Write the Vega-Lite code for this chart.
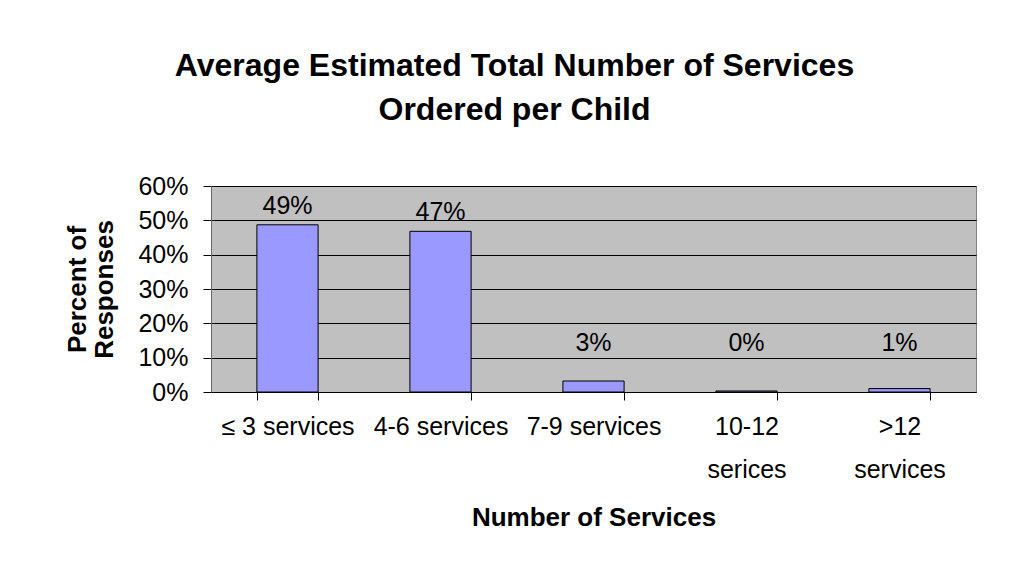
{
  "$schema": "https://vega.github.io/schema/vega-lite/v6.json",
  "width": 765,
  "height": 206,
  "autosize": {"type": "none"},
  "padding": {"left": 211, "top": 186, "right": 33, "bottom": 185},
  "background": "white",
  "title": {
    "text": ["Average Estimated Total Number of Services", "Ordered per Child"],
    "font": "Liberation Sans",
    "fontSize": 32,
    "fontWeight": "bold",
    "color": "black",
    "anchor": "middle",
    "frame": "group",
    "lineHeight": 44,
    "baseline": "alphabetic",
    "dx": -79,
    "dy": -2,
    "offset": 20
  },
  "data": {
    "values": [
      {"category": "≤ 3 services", "value": 0.487, "label": "49%"},
      {"category": "4-6 services", "value": 0.468, "label": "47%"},
      {"category": "7-9 services", "value": 0.032, "label": "3%"},
      {"category": "10-12|serices", "value": 0.003, "label": "0%"},
      {"category": ">12|services", "value": 0.01, "label": "1%"}
    ]
  },
  "encoding": {
    "x": {
      "field": "category",
      "type": "nominal",
      "sort": null,
      "scale": {"paddingInner": 0.6, "paddingOuter": 0.3},
      "axis": {
        "title": "Number of Services",
        "titleFont": "Liberation Sans",
        "titleFontSize": 26,
        "titleFontWeight": "bold",
        "titleColor": "black",
        "titlePadding": 22,
        "labelAngle": 0,
        "labelFont": "Liberation Sans",
        "labelFontSize": 25,
        "labelColor": "black",
        "labelLimit": 0,
        "labelBaseline": "alphabetic",
        "labelPadding": 34,
        "labelLineHeight": 43,
        "labelExpr": "split(datum.label, '|')",
        "tickBand": "extent",
        "tickSize": 8,
        "tickColor": "black",
        "domainColor": "black",
        "grid": false
      }
    }
  },
  "resolve": {"axis": {"y": "independent"}},
  "layer": [
    {
      "mark": {"type": "bar", "fill": "#9999FF", "stroke": "black", "strokeWidth": 1},
      "encoding": {
        "y": {
          "field": "value",
          "type": "quantitative",
          "scale": {"domain": [0, 0.6], "nice": false},
          "axis": {
            "title": ["Percent of", "Responses"],
            "titleFont": "Liberation Sans",
            "titleFontSize": 26,
            "titleFontWeight": "bold",
            "titleColor": "black",
            "titleLineHeight": 27,
            "titlePadding": 20,
            "values": [0, 0.1, 0.2, 0.3, 0.4, 0.5, 0.6],
            "format": ".0%",
            "labelFont": "Liberation Sans",
            "labelFontSize": 25,
            "labelColor": "black",
            "labelPadding": 15,
            "labelOverlap": false,
            "labelFlush": false,
            "tickSize": 8,
            "tickColor": "black",
            "domainColor": "#666666",
            "grid": true,
            "gridColor": "black",
            "gridWidth": 1
          }
        }
      }
    },
    {
      "transform": [{"calculate": "max(datum.value, 0.088)", "as": "labelY"}],
      "mark": {"type": "text", "font": "Liberation Sans", "fontSize": 25, "color": "black", "baseline": "alphabetic", "dy": -11},
      "encoding": {
        "y": {"field": "labelY", "type": "quantitative", "axis": null},
        "text": {"field": "label"}
      }
    }
  ],
  "config": {
    "view": {"fill": "#C0C0C0", "stroke": "#808080", "strokeWidth": 1}
  }
}
